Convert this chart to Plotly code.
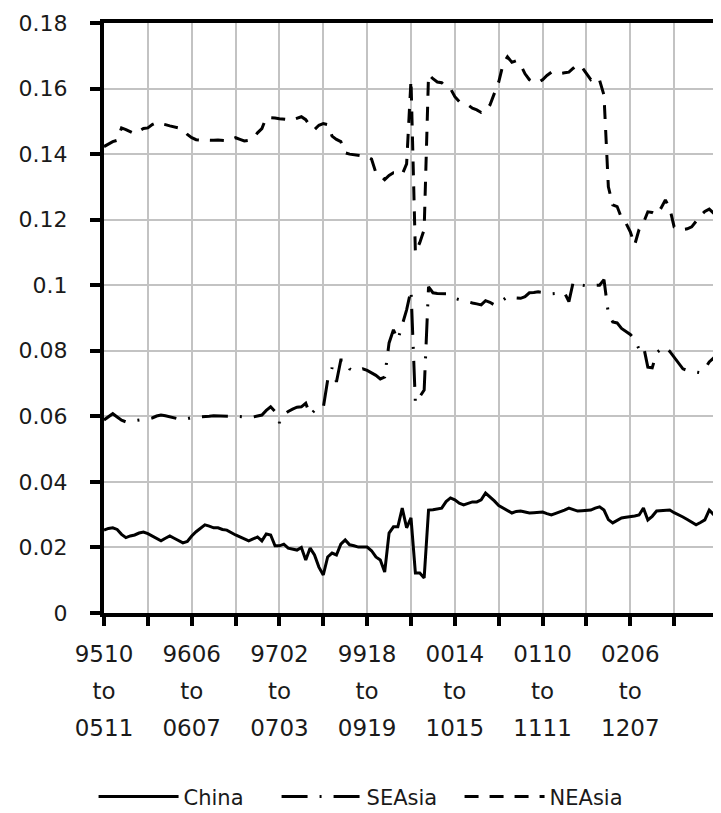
import plotly.graph_objects as go

# rolling-window index (0 = "9510 to 0511")
period = list(range(141))

china = [
    0.0253, 0.0258, 0.0260, 0.0255, 0.0240, 0.0230, 0.0235, 0.0238, 0.0244, 0.0247,
    0.0242, 0.0235, 0.0226, 0.0220, 0.0228, 0.0235, 0.0228, 0.0220, 0.0214, 0.0218,
    0.0235, 0.0248, 0.0260, 0.0269, 0.0265, 0.0260, 0.0260, 0.0255, 0.0253, 0.0245,
    0.0238, 0.0232, 0.0226, 0.0220, 0.0226, 0.0232, 0.0220, 0.0241, 0.0238, 0.0205,
    0.0205, 0.0210, 0.0198, 0.0195, 0.0192, 0.0200, 0.0162, 0.0198, 0.0177, 0.0140,
    0.0116, 0.0171, 0.0183, 0.0177, 0.0210, 0.0223, 0.0208, 0.0205, 0.0201, 0.0201,
    0.0201, 0.0190, 0.0171, 0.0162, 0.0125, 0.0244, 0.0263, 0.0263, 0.0320, 0.0260,
    0.0290, 0.0122, 0.0122, 0.0107, 0.0314, 0.0315, 0.0317, 0.0320, 0.0340, 0.0351,
    0.0345, 0.0335, 0.0330, 0.0335, 0.0339, 0.0339, 0.0345, 0.0366, 0.0355, 0.0342,
    0.0328, 0.0320, 0.0314, 0.0305, 0.0310, 0.0311, 0.0308, 0.0305, 0.0306, 0.0307,
    0.0308, 0.0303, 0.0299, 0.0304, 0.0308, 0.0314, 0.0320, 0.0315, 0.0311, 0.0312,
    0.0313, 0.0314, 0.0320, 0.0324, 0.0314, 0.0285, 0.0275, 0.0282, 0.0290, 0.0292,
    0.0293, 0.0296, 0.0299, 0.0320, 0.0284, 0.0295, 0.0311, 0.0312, 0.0313, 0.0314,
    0.0306, 0.0300, 0.0293, 0.0285, 0.0278, 0.0269, 0.0276, 0.0284, 0.0314, 0.0300,
    0.0290,
]

seasia = [
    0.0589, 0.0598, 0.0608, 0.0598, 0.0588, 0.0583, 0.0585, 0.0586, 0.0588, 0.0590,
    0.0592, 0.0595, 0.0601, 0.0604, 0.0602, 0.0598, 0.0595, 0.0592, 0.0590, 0.0594,
    0.0596, 0.0598, 0.0598, 0.0598, 0.0600, 0.0602, 0.0601, 0.0600, 0.0600, 0.0600,
    0.0601, 0.0599, 0.0598, 0.0597, 0.0598, 0.0600, 0.0604, 0.0618, 0.0629, 0.0615,
    0.0580, 0.0605, 0.0615, 0.0622, 0.0628, 0.0629, 0.0640, 0.0604, 0.0618, 0.0626,
    0.0626, 0.0711, 0.0748, 0.0705, 0.0772, 0.0772, 0.0745, 0.0738, 0.0742, 0.0745,
    0.0740, 0.0733, 0.0725, 0.0714, 0.0720, 0.0824, 0.0864, 0.0833, 0.0879, 0.0925,
    0.0986, 0.0640, 0.0660, 0.0680, 0.0995, 0.0977, 0.0975, 0.0975, 0.0974, 0.0968,
    0.0960, 0.0956, 0.0952, 0.0948, 0.0946, 0.0943, 0.0940, 0.0953, 0.0948, 0.0940,
    0.0945, 0.0955, 0.0965, 0.0962, 0.0960, 0.0960, 0.0965, 0.0977, 0.0978, 0.0980,
    0.0978, 0.0975, 0.0974, 0.0975, 0.0976, 0.0977, 0.0950, 0.1010, 0.1005, 0.1000,
    0.0998, 0.0999, 0.1000, 0.1000, 0.1017, 0.0913, 0.0888, 0.0885, 0.0868, 0.0858,
    0.0850, 0.0835, 0.0805, 0.0815, 0.0750, 0.0748, 0.0794, 0.0805, 0.0812, 0.0798,
    0.0780, 0.0765, 0.0745, 0.0740, 0.0737, 0.0735, 0.0733, 0.0745, 0.0766, 0.0778,
    0.0733,
]

neasia = [
    0.1423, 0.1430, 0.1438, 0.1442, 0.1480, 0.1475, 0.1468, 0.1462, 0.1470, 0.1478,
    0.1480, 0.1490, 0.1496, 0.1494, 0.1490, 0.1486, 0.1484, 0.1480, 0.1474, 0.1460,
    0.1450, 0.1444, 0.1443, 0.1442, 0.1441, 0.1442, 0.1443, 0.1442, 0.1441, 0.1445,
    0.1450, 0.1445, 0.1440, 0.1442, 0.1448, 0.1465, 0.1478, 0.1512, 0.1512, 0.1510,
    0.1508, 0.1506, 0.1505, 0.1505, 0.1510, 0.1514, 0.1505, 0.1485, 0.1475, 0.1488,
    0.1493, 0.1490, 0.1455, 0.1445, 0.1438, 0.1404, 0.1400, 0.1398, 0.1397, 0.1395,
    0.1392, 0.1385, 0.1343, 0.1335, 0.1322, 0.1335, 0.1343, 0.1343, 0.1338, 0.1370,
    0.1627, 0.1099, 0.1130, 0.1170, 0.1643, 0.1630, 0.1620, 0.1618, 0.1605, 0.1600,
    0.1575, 0.1560, 0.1555, 0.1550, 0.1540, 0.1535, 0.1527, 0.1530, 0.1550, 0.1585,
    0.1620, 0.1675, 0.1697, 0.1680, 0.1685, 0.1672, 0.1645, 0.1627, 0.1620, 0.1618,
    0.1627, 0.1640, 0.1650, 0.1648, 0.1646, 0.1648, 0.1650, 0.1662, 0.1673, 0.1665,
    0.1645, 0.1627, 0.1636, 0.1625, 0.1580, 0.1300, 0.1245, 0.1240, 0.1205, 0.1190,
    0.1163, 0.1123, 0.1170, 0.1190, 0.1224, 0.1222, 0.1215, 0.1235, 0.1260, 0.1235,
    0.1178, 0.1172, 0.1170, 0.1172, 0.1178, 0.1195, 0.1212, 0.1225, 0.1232, 0.1220,
    0.1215,
]

# x-axis: tick every 10 windows, label every 20
x_tick_vals = list(range(0, 141, 10))
label_starts = ["9510", "9606", "9702", "9918", "0014", "0110", "0206"]
label_ends = ["0511", "0607", "0703", "0919", "1015", "1111", "1207"]
label_every = 20

y_tick_vals = [0, 0.02, 0.04, 0.06, 0.08, 0.1, 0.12, 0.14, 0.16, 0.18]
y_tick_text = ["0", "0.02", "0.04", "0.06", "0.08", "0.1", "0.12", "0.14", "0.16", "0.18"]

FONT = "DejaVu Sans"
TXT = "#1a1a1a"


def span(t):
    return f"<span style='font-size:23px'>{t}</span>"


x_tick_text = []
for v in x_tick_vals:
    if v % label_every == 0 and v // label_every < len(label_starts):
        i = v // label_every
        x_tick_text.append(span(label_starts[i]) + "<br>" + span("to") + "<br>" + span(label_ends[i]))
    else:
        x_tick_text.append("")

fig = go.Figure()
fig.add_trace(go.Scatter(x=period, y=china, name="China", mode="lines",
                         line=dict(color="black", width=3)))
fig.add_trace(go.Scatter(x=period, y=seasia, name="SEAsia", mode="lines",
                         line=dict(color="black", width=3, dash="26px,12px,2px,12px")))
fig.add_trace(go.Scatter(x=period, y=neasia, name="NEAsia", mode="lines",
                         line=dict(color="black", width=3, dash="14px,11px")))

fig.update_layout(
    width=713, height=805,
    margin=dict(l=96, r=3, t=15, b=200, autoexpand=False),
    paper_bgcolor="white", plot_bgcolor="white",
    font=dict(family=FONT, color=TXT, size=23),
    showlegend=True,
    legend=dict(orientation="h", xref="container", yref="container",
                x=0.505, xanchor="center", y=0.02, yanchor="middle",
                font=dict(family=FONT, size=21, color=TXT),
                itemwidth=80, entrywidth=88, entrywidthmode="pixels",
                bgcolor="rgba(0,0,0,0)"),
    xaxis=dict(range=[0, 140], tickmode="array", tickvals=x_tick_vals,
               ticktext=x_tick_text, showgrid=True, gridcolor="#c3c3c3",
               gridwidth=1.5, zeroline=False, showline=True, linecolor="black",
               linewidth=4, mirror=True, ticks="outside", ticklen=9,
               tickwidth=4, tickcolor="black", tickangle=0,
               tickfont=dict(family=FONT, size=28.5, color=TXT),
               ticklabelstandoff=2),
    yaxis=dict(range=[0, 0.18], tickmode="array", tickvals=y_tick_vals,
               ticktext=y_tick_text, showgrid=True, gridcolor="#c3c3c3",
               gridwidth=1.5, zeroline=False, showline=True, linecolor="black",
               linewidth=4, mirror=True, ticks="outside", ticklen=10,
               tickwidth=4, tickcolor="black",
               tickfont=dict(family=FONT, size=22, color=TXT),
               ticklabelstandoff=18),
)

fig.write_html("out.html")
